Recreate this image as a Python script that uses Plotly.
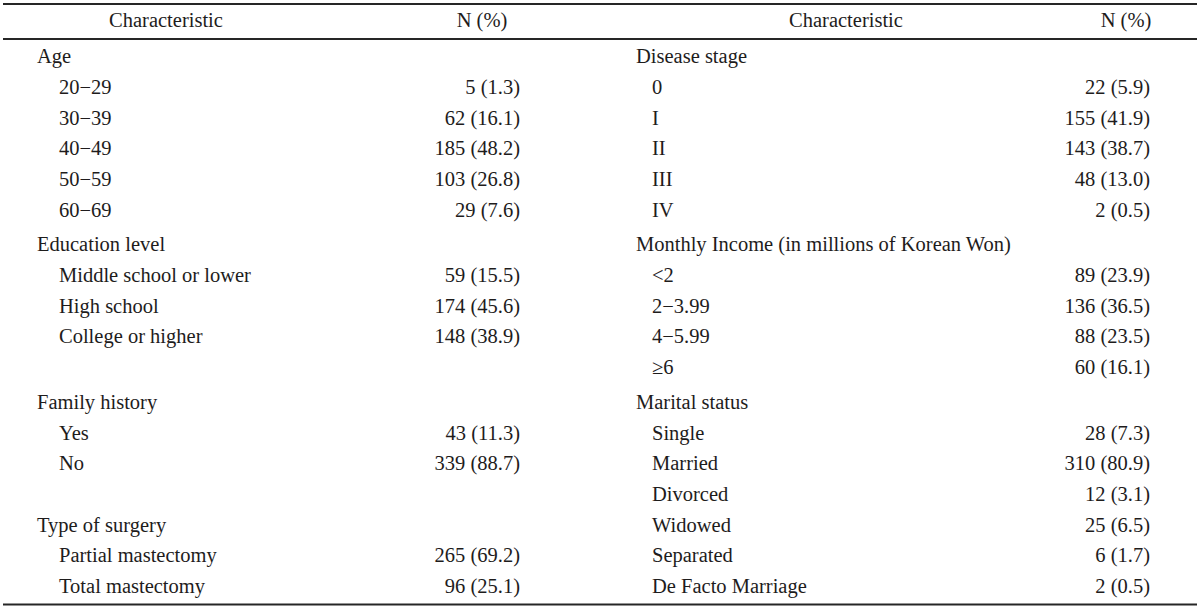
import plotly.graph_objects as go

# ---- data ----
header_labels = ["Characteristic", "N (%)", "Characteristic", "N (%)"]

left_char = ["Age", "20−29", "30−39", "40−49", "50−59", "60−69",
             "Education level", "Middle school or lower", "High school", "College or higher", "",
             "Family history", "Yes", "No", "",
             "Type of surgery", "Partial mastectomy", "Total mastectomy"]
left_n = ["", "5 (1.3)", "62 (16.1)", "185 (48.2)", "103 (26.8)", "29 (7.6)",
          "", "59 (15.5)", "174 (45.6)", "148 (38.9)", "",
          "", "43 (11.3)", "339 (88.7)", "",
          "", "265 (69.2)", "96 (25.1)"]

right_char = ["Disease stage", "0", "I", "II", "III", "IV",
              "Monthly Income (in millions of Korean Won)", "<2", "2−3.99", "4−5.99", "≥6",
              "Marital status", "Single", "Married", "Divorced",
              "Widowed", "Separated", "De Facto Marriage"]
right_n = ["", "22 (5.9)", "155 (41.9)", "143 (38.7)", "48 (13.0)", "2 (0.5)",
           "", "89 (23.9)", "136 (36.5)", "88 (23.5)", "60 (16.1)",
           "", "28 (7.3)", "310 (80.9)", "12 (3.1)",
           "25 (6.5)", "6 (1.7)", "2 (0.5)"]

# ---- layout constants ----
W, H = 1200, 609
FONT = "Liberation Serif"
FS = 20.5
TXT = "#1e1c1c"
RULE = "#262626"

first_y = 58
pitch = 30.7
extra = 4

def is_head(lbl, val):
    return lbl != "" and val == ""

ys = []
y = first_y
for i in range(len(left_char)):
    if i > 0:
        y += pitch
        if is_head(left_char[i], left_n[i]) and is_head(right_char[i], right_n[i]):
            y += extra
    ys.append(y)

fig = go.Figure()

def add_text(xs, yv, texts, pos):
    fig.add_trace(go.Scatter(x=xs, y=yv, text=texts, mode="text", textposition=pos,
                             textfont=dict(family=FONT, size=FS, color=TXT),
                             hoverinfo="skip", showlegend=False, cliponaxis=False))

cols = [
    (left_char, left_n, 37, 59, 520),
    (right_char, right_n, 636, 652, 1150),
]
for chars, vals, x_head, x_item, x_val in cols:
    lx, ly, lt = [], [], []
    vx, vy, vt = [], [], []
    for c, v, yy in zip(chars, vals, ys):
        if c:
            lx.append(x_head if is_head(c, v) else x_item)
            ly.append(yy)
            lt.append(c)
        if v:
            vx.append(x_val)
            vy.append(yy)
            vt.append(v)
    add_text(lx, ly, lt, "middle right")
    add_text(vx, vy, vt, "middle left")

head_x = [166, 482, 846, 1126]
add_text(head_x, [22] * 4, header_labels, "middle center")

for yy in [4, 39, 604.5]:
    fig.add_shape(type="line", x0=3, x1=1197, y0=yy, y1=yy, xref="x", yref="y",
                  line=dict(color=RULE, width=2))

fig.update_layout(
    width=W, height=H, margin=dict(l=0, r=0, t=0, b=0),
    paper_bgcolor="white", plot_bgcolor="white",
    xaxis=dict(range=[0, W], visible=False, fixedrange=True),
    yaxis=dict(range=[H, 0], visible=False, fixedrange=True),
)

fig.write_html("out.html", config={"displayModeBar": False},
               post_script="document.body.style.margin='0px';")
